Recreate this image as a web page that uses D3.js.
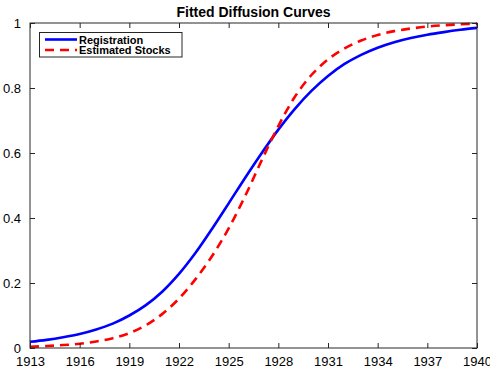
<!DOCTYPE html>
<html><head><meta charset="utf-8">
<script src="https://cdn.jsdelivr.net/npm/d3@7"></script>
<style>body{margin:0;background:#fff}svg{display:block}</style>
</head><body><svg id="c" width="490" height="368"></svg>
<script>
const years = [1913,1914,1915,1916,1917,1918,1919,1920,1921,1922,1923,1924,1925,1926,1927,1928,1929,1930,1931,1932,1933,1934,1935,1936,1937,1938,1939,1940];
const registration = [0.019,0.025,0.033,0.043,0.057,0.075,0.100,0.132,0.174,0.228,0.293,0.367,0.445,0.524,0.600,0.672,0.736,0.791,0.837,0.874,0.902,0.924,0.941,0.954,0.964,0.972,0.979,0.985];
const estimatedStocks = [0.004,0.006,0.009,0.013,0.020,0.030,0.046,0.070,0.105,0.152,0.212,0.283,0.368,0.468,0.578,0.683,0.773,0.840,0.888,0.922,0.946,0.963,0.975,0.983,0.989,0.993,0.996,0.998];
const xTicks = [1913,1916,1919,1922,1925,1928,1931,1934,1937,1940];
const yTicks = [0,0.2,0.4,0.6,0.8,1];
const seriesNames = ["Registration","Estimated Stocks"];
const title = "Fitted Diffusion Curves";

const svg = d3.select("#c");
const L=30, R=477, T=23, B=348;
const x = d3.scaleLinear().domain([1913,1940]).range([L,R]);
const y = d3.scaleLinear().domain([0,1]).range([B,T]);
const font = "'Liberation Sans', Arial, Helvetica, sans-serif";
const axCol = "#262626";

const line = d3.line().x((d,i)=>x(years[i])).y(d=>y(d)).curve(d3.curveCatmullRom);
svg.append("path").datum(registration).attr("d",line).attr("fill","none")
  .attr("stroke","#0000ff").attr("stroke-width",2.6);
svg.append("path").datum(estimatedStocks).attr("d",line).attr("fill","none")
  .attr("stroke","#ff0000").attr("stroke-width",2.6).attr("stroke-dasharray","9,6");

function styleAxis(g){
  g.select(".domain").remove();
  g.selectAll("line").attr("stroke",axCol).attr("stroke-width",1);
  g.selectAll("text").attr("font-family",font).attr("font-size",13).attr("fill","#000");
}
const tickLen = 5;
svg.append("g").attr("transform",`translate(0,${B})`)
  .call(d3.axisBottom(x).tickValues(xTicks).tickFormat(d3.format("d")).tickSizeInner(-tickLen).tickSizeOuter(0).tickPadding(9))
  .call(styleAxis);
svg.append("g").attr("transform",`translate(0,${T})`)
  .call(d3.axisTop(x).tickValues(xTicks).tickFormat("").tickSizeInner(-tickLen).tickSizeOuter(0))
  .call(styleAxis);
svg.append("g").attr("transform",`translate(${L},0)`)
  .call(d3.axisLeft(y).tickValues(yTicks).tickFormat(d=>d3.format("")(+d.toFixed(1))).tickSizeInner(-tickLen).tickSizeOuter(0).tickPadding(9))
  .call(styleAxis);
svg.append("g").attr("transform",`translate(${R},0)`)
  .call(d3.axisRight(y).tickValues(yTicks).tickFormat("").tickSizeInner(-tickLen).tickSizeOuter(0))
  .call(styleAxis);

svg.append("rect").attr("x",L).attr("y",T).attr("width",R-L).attr("height",B-T)
  .attr("fill","none").attr("stroke",axCol).attr("stroke-width",1);

svg.append("text").attr("x",(L+R)/2).attr("y",17).attr("text-anchor","middle")
  .attr("font-family",font).attr("font-weight","bold").attr("font-size",14).text(title);

// legend
const lg = svg.append("g");
lg.append("rect").attr("x",39.5).attr("y",32.5).attr("width",142.5).attr("height",24.5)
  .attr("fill","#fff").attr("stroke",axCol).attr("stroke-width",1);
const cols = ["#0000ff","#ff0000"];
seriesNames.forEach((n,i)=>{
  const yy = 39.5 + i*10.5;
  lg.append("line").attr("x1",45).attr("x2",77).attr("y1",yy).attr("y2",yy)
    .attr("stroke",cols[i]).attr("stroke-width",2.6).attr("stroke-dasharray",i? "9,6":null);
  lg.append("text").attr("x",79).attr("y",yy+4).attr("font-family",font).attr("font-weight","bold")
    .attr("font-size",11).text(n);
});
</script></body></html>
